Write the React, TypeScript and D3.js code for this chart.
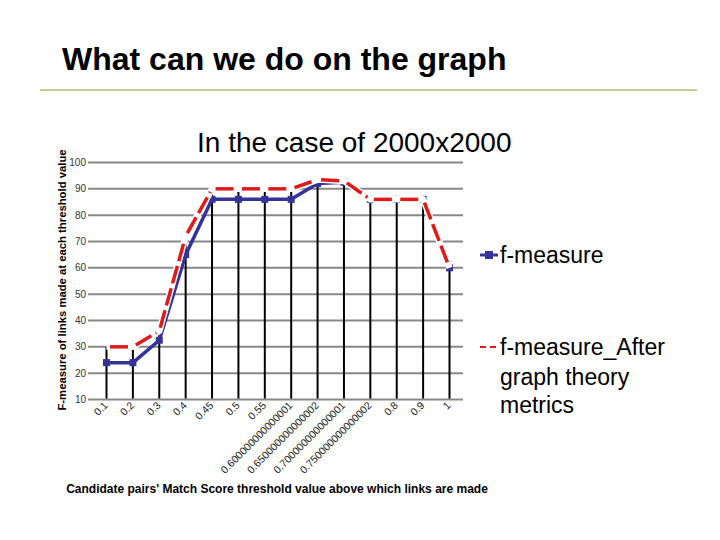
import React from "react";
import * as d3 from "d3";

const categories = [
  "0.1", "0.2", "0.3", "0.4", "0.45", "0.5", "0.55",
  "0.600000000000001", "0.650000000000002", "0.700000000000001", "0.750000000000002",
  "0.8", "0.9", "1",
];
const fMeasure = [24, 24, 32.5, 65, 86, 86, 86, 86, 92, 92.5, 86, 86, 86, 60];
const fMeasureAfter = [30, 30, 36, 72, 90, 90, 90, 90, 93.5, 93, 86, 86, 86, 60];
const yTicks = [10, 20, 30, 40, 50, 60, 70, 80, 90, 100];

const FONT = "'Liberation Sans', Arial, sans-serif";
const BLUE = "#333399";
const RED = "#e01a1a";

export default function App() {
  const x = d3.scalePoint<string>().domain(categories).range([106.5, 449.5]);
  const y = d3.scaleLinear().domain([10, 100]).range([399.5, 162.5]);
  const gridL = 92, gridR = 463;

  const lineGen = d3.line<number>().x((_, i) => x(categories[i])!).y((d) => y(d));

  const redSegs = fMeasureAfter.slice(1).map((v, i) => {
    const x0 = x(categories[i])!, y0 = y(fMeasureAfter[i]);
    const x1 = x(categories[i + 1])!, y1 = y(v);
    const len = Math.hypot(x1 - x0, y1 - y0);
    const ux = (x1 - x0) / len, uy = (y1 - y0) / len;
    const g = 3.5;
    return { x0: x0 + ux * g, y0: y0 + uy * g, x1: x1 - ux * g, y1: y1 - uy * g };
  });

  return (
    <svg width={720} height={540} style={{ position: "absolute", left: 0, top: 0, background: "#fff" }} fontFamily={FONT}>
      <rect width={720} height={540} fill="#fff" />
      <text x={62} y={70} fontSize={32} fontWeight="bold" fill="#000">What can we do on the graph</text>
      <line x1={40} x2={697} y1={90} y2={90} stroke="#b0bc70" strokeWidth={1.5} />
      <text x={197} y={152} fontSize={28} fill="#000">In the case of 2000x2000</text>

      {/* gridlines */}
      {yTicks.map((t) => (
        <g key={t}>
          <line x1={gridL - 4} x2={gridR} y1={y(t)} y2={y(t)} stroke="#888" strokeWidth={2} />
          <text x={86} y={y(t) + 3.5} fontSize={10} textAnchor="end" fill="#333">{t}</text>
        </g>
      ))}

      {/* drop lines */}
      {categories.map((c, i) => (
        <line key={c} x1={x(c)} x2={x(c)} y1={y(Math.max(fMeasure[i], fMeasureAfter[i]))} y2={y(10) - 1}
          stroke="#000" strokeWidth={2} />
      ))}

      {/* blue series */}
      <path d={lineGen(fMeasure) || ""} fill="none" stroke={BLUE} strokeWidth={3.5} />
      {fMeasure.map((v, i) => (
        <rect key={i} x={x(categories[i])! - 3.5} y={y(v) - 3.5} width={7} height={7} fill={BLUE} />
      ))}

      {/* red series */}
      <path d={lineGen(fMeasureAfter) || ""} fill="none" stroke="#fff" strokeWidth={6.5} strokeLinejoin="round" />
      {redSegs.map((s, i) => (
        <line key={"r" + i} x1={s.x0} y1={s.y0} x2={s.x1} y2={s.y1} stroke={RED} strokeWidth={3.5}
          strokeDasharray="18 5" />
      ))}

      {/* x labels */}
      {categories.map((c) => (
        <text key={c} transform={`translate(${x(c)! + 2},${406}) rotate(-45)`} fontSize={10.5}
          textAnchor="end" fill="#222">{c}</text>
      ))}

      <text x={277} y={493} fontSize={12} fontWeight="bold" textAnchor="middle" fill="#000">
        Candidate pairs' Match Score threshold value above which links are made
      </text>
      <text transform="translate(66,280) rotate(-90)" fontSize={11.3} fontWeight="bold" textAnchor="middle" fill="#000">
        F-measure of links made at each threshold value
      </text>

      {/* legend */}
      <line x1={480} x2={498} y1={255} y2={255} stroke={BLUE} strokeWidth={3} />
      <rect x={485} y={251} width={8} height={8} fill={BLUE} />
      <text x={500} y={263} fontSize={23} fill="#000">f-measure</text>
      <line x1={480} x2={498} y1={347} y2={347} stroke={RED} strokeWidth={2} strokeDasharray="6 4" />
      <text x={500} y={355} fontSize={23} fill="#000">f-measure_After</text>
      <text x={500} y={385} fontSize={23} fill="#000">graph theory</text>
      <text x={500} y={413} fontSize={23} fill="#000">metrics</text>
    </svg>
  );
}
